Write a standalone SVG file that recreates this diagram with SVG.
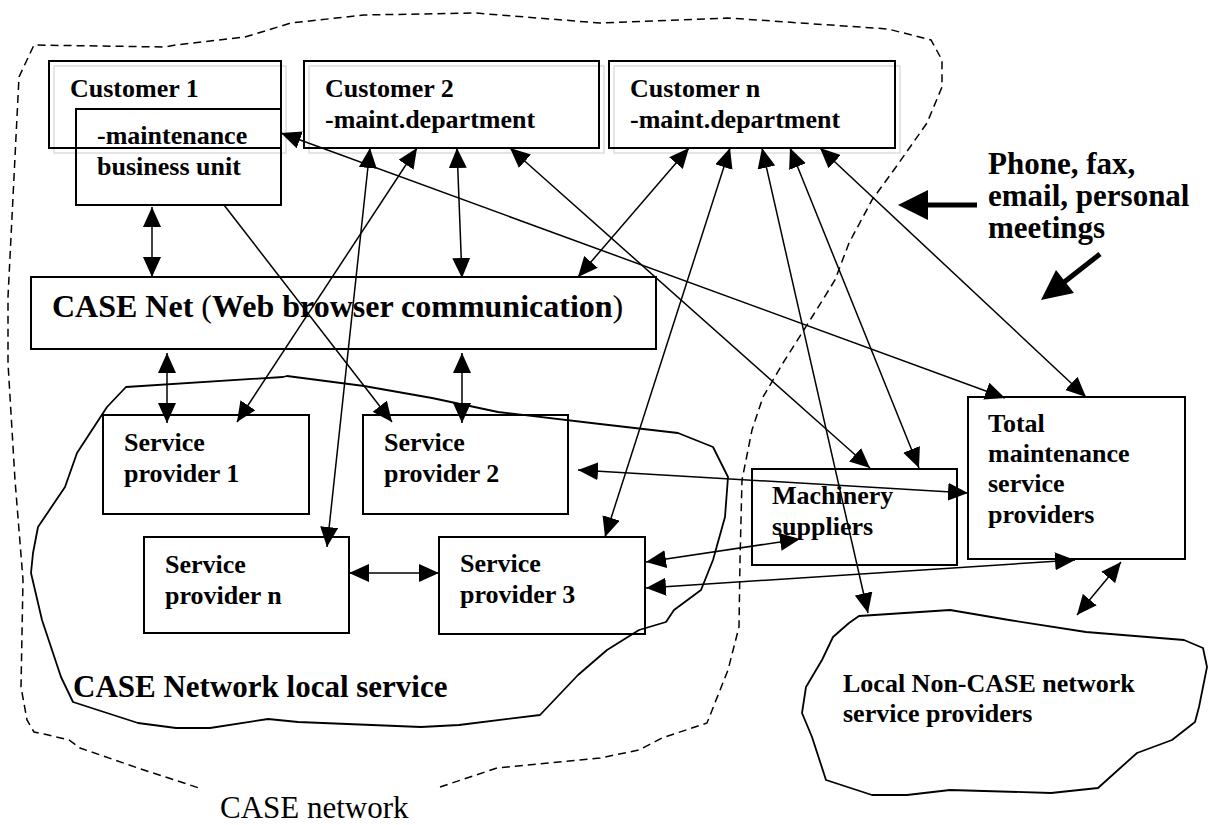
<svg xmlns="http://www.w3.org/2000/svg" width="1210" height="825" viewBox="0 0 1210 825">
  <defs>
    <marker id="ah" viewBox="0 0 20 18" refX="20" refY="9" markerWidth="20" markerHeight="18" markerUnits="userSpaceOnUse" orient="auto-start-reverse">
      <path d="M0,0 L20,9 L0,18 z" fill="#000"/>
    </marker>
  </defs>
  <style>
    .box{fill:none;stroke:#000;stroke-width:2}
    .shadow{fill:none;stroke:#dcdcdc;stroke-width:1.5}
    .t{font-family:"Liberation Serif","Times New Roman",serif;font-weight:bold;font-size:26px;fill:#000}
    .big{font-size:31px}
    .reg{font-weight:normal}
    .c{fill:none;stroke:#000;stroke-width:1.5}
    .dbl{marker-start:url(#ah);marker-end:url(#ah)}
    .one{marker-end:url(#ah)}
    .dash{fill:none;stroke:#000;stroke-width:1.5;stroke-dasharray:8 5}
    .cloud{fill:none;stroke:#000;stroke-width:1.8;stroke-linejoin:round}
  </style>
  <rect width="1210" height="825" fill="#fff"/>

  <!-- outer CASE network boundary (open at the bottom for its label) -->
  <g id="case-network">
    <path class="dash" d="M440,787 L497,768 L600,758 L639,750 L662,738 L707,723 L728,670 L739,627 L740,560 L742,480 L752,430 L763,397 L783,363 L812,317 L835,280 L849,243 L872,200 L896,167 L927,123 L942,87 L942,60 L931,40 L888,29 L728,18 L600,23 L475,13 L364,15 L291,23 L245,37 L176,45 L165,47 L34,45 L19,77 L8,297 L8,363 L15,480 L23,580 L21,687 L27,720 L34,732 L44,734 L69,740 L80,748 L138,768 L199,788"/>
    <text class="t reg big" x="220" y="818">CASE network</text>
  </g>

  <!-- local service area -->
  <g id="local-service">
    <path class="cloud" d="M126,387 L283,377 L287,376 L364,386 L432,398 L498,412 L600,424 L678,433 L713,447 L728,477 L725,517 L713,560 L701,590 L674,610 L666,622 L639,630 L607,650 L578,675 L540,715 L459,725 L421,727 L298,722 L268,719 L210,728 L176,728 L138,723 L73,702 L61,677 L42,620 L31,573 L33,553 L38,527 L65,487 L77,453 L107,407 Z"/>
    <text class="t big" x="73" y="697">CASE Network local service</text>
  </g>

  <!-- non-CASE providers -->
  <g id="non-case">
    <path class="cloud" d="M859,616 L950,610 L1009,620 L1086,632 L1184,640 L1203,648 L1207,667 L1199,707 L1195,722 L1172,740 L1137,753 L1118,770 L1098,788 L1051,793 L950,790 L907,795 L872,795 L826,780 L812,737 L802,713 L806,687 L822,660 L833,637 L849,623 Z"/>
    <text class="t" x="843" y="692">Local Non-CASE network</text>
    <text class="t" x="843" y="722">service providers</text>
  </g>

  <g id="customer-1">
    <rect class="shadow" x="54" y="66" width="232" height="87"/>
    <rect class="box" x="49" y="61" width="232" height="87"/>
    <text class="t" x="70" y="97">Customer 1</text>
  </g>
  <g id="maintenance-unit">
    <rect class="box" x="76" y="109" width="205" height="96"/>
    <text class="t" x="97" y="144">-maintenance</text>
    <text class="t" x="97" y="175">business unit</text>
  </g>
  <g id="customer-2">
    <rect class="shadow" x="309" y="66" width="295" height="87"/>
    <rect class="box" x="304" y="61" width="295" height="87"/>
    <text class="t" x="325" y="97">Customer 2</text>
    <text class="t" x="325" y="128">-maint.department</text>
  </g>
  <g id="customer-n">
    <rect class="shadow" x="614" y="66" width="286" height="87"/>
    <rect class="box" x="609" y="61" width="286" height="87"/>
    <text class="t" x="630" y="97">Customer n</text>
    <text class="t" x="630" y="128">-maint.department</text>
  </g>
  <g id="case-net">
    <rect class="box" x="31" y="277" width="625" height="72"/>
    <text class="t" style="font-size:32px" x="52" y="317">CASE Net <tspan class="reg">(</tspan>Web browser communication<tspan class="reg">)</tspan></text>
  </g>
  <g id="sp-1">
    <rect class="box" x="103" y="415" width="206" height="99"/>
    <text class="t" x="124" y="451">Service</text>
    <text class="t" x="124" y="482">provider 1</text>
  </g>
  <g id="sp-2">
    <rect class="box" x="363" y="415" width="205" height="99"/>
    <text class="t" x="384" y="451">Service</text>
    <text class="t" x="384" y="482">provider 2</text>
  </g>
  <g id="sp-n">
    <rect class="box" x="144" y="537" width="205" height="96"/>
    <text class="t" x="165" y="573">Service</text>
    <text class="t" x="165" y="604">provider n</text>
  </g>
  <g id="sp-3">
    <rect class="box" x="439" y="537" width="206" height="97"/>
    <text class="t" x="460" y="572">Service</text>
    <text class="t" x="460" y="603">provider 3</text>
  </g>
  <g id="machinery">
    <rect class="box" x="752" y="469" width="205" height="96"/>
    <text class="t" x="772" y="504">Machinery</text>
    <text class="t" x="772" y="535">suppliers</text>
  </g>
  <g id="total-maintenance">
    <rect class="box" x="968" y="397" width="217" height="162"/>
    <text class="t" x="988" y="432">Total</text>
    <text class="t" x="988" y="462">maintenance</text>
    <text class="t" x="988" y="492">service</text>
    <text class="t" x="988" y="523">providers</text>
  </g>

  <!-- other channels -->
  <g id="other-channels">
    <text class="t big" x="988" y="174">Phone, fax,</text>
    <text class="t big" x="988" y="206">email, personal</text>
    <text class="t big" x="988" y="238">meetings</text>
    <line x1="977" y1="205" x2="926" y2="205" stroke="#000" stroke-width="5"/>
    <polygon points="898,205 928,190 928,220" fill="#000"/>
    <line x1="1100" y1="254" x2="1063" y2="283" stroke="#000" stroke-width="5"/>
    <polygon points="1041,300 1074,293 1056,270" fill="#000"/>
  </g>

  <g id="connectors">
    <path class="c dbl" d="M152,207 L152,277"/>
    <path class="c dbl" d="M457,148 L462,278"/>
    <path class="c dbl" d="M689,148 L578,277"/>
    <path class="c dbl" d="M167,353 L167,423"/>
    <path class="c dbl" d="M462,353 L462,423"/>
    <path class="c dbl" d="M281,133 L1005,398"/>
    <path class="c dbl" d="M370,148 L327,547"/>
    <path class="c dbl" d="M417,148 L237,422"/>
    <path class="c one" d="M224,205 L392,422"/>
    <path class="c dbl" d="M510,148 L870,468"/>
    <path class="c dbl" d="M730,148 L605,537"/>
    <path class="c dbl" d="M762,148 L868,613"/>
    <path class="c dbl" d="M790,148 L919,468"/>
    <path class="c dbl" d="M820,148 L1086,397"/>
    <path class="c dbl" d="M578,470 L968,493"/>
    <path class="c dbl" d="M349,573 L439,573"/>
    <path class="c dbl" d="M646,562 L800,539"/>
    <path class="c dbl" d="M646,588 L1075,560"/>
    <path class="c dbl" d="M1121,562 L1077,615"/>
  </g>
</svg>
